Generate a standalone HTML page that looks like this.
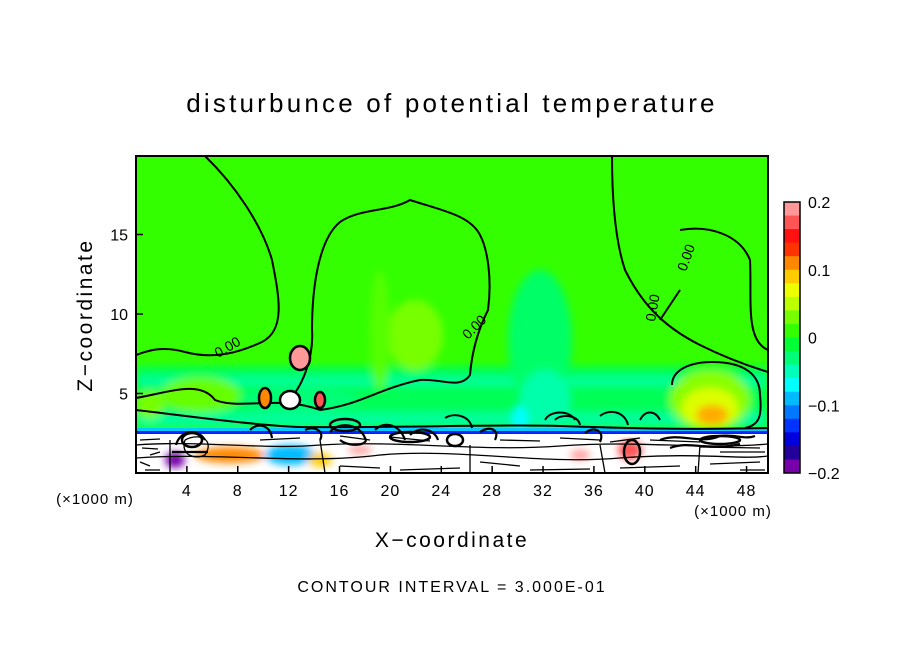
<!DOCTYPE html>
<html><head><meta charset="utf-8"><style>
body{margin:0;background:#fff;}
svg{display:block;font-family:"Liberation Sans",sans-serif;}
</style></head><body>
<svg id="chart" width="904" height="654" viewBox="0 0 904 654">
<text x="452" y="112" text-anchor="middle" font-size="26" letter-spacing="3.2">disturbunce of potential temperature</text>
<defs><clipPath id="pc"><rect x="136" y="156" width="632" height="317"/></clipPath>
<filter id="bl"><feGaussianBlur stdDeviation="4"/></filter></defs>
<g clip-path="url(#pc)">
<rect x="136" y="156" width="632" height="317" fill="#33ff00"/>
<g filter="url(#bl)">
<rect x="136" y="366" width="632" height="62" fill="#00ff55"/>
<rect x="136" y="376" width="632" height="10" fill="#00ff99"/>
<rect x="136" y="412" width="632" height="16" fill="#00ff99"/>
<ellipse cx="540" cy="340" rx="32" ry="70" fill="#00ff66"/>
<ellipse cx="545" cy="400" rx="25" ry="30" fill="#00ffaa"/>
<ellipse cx="415" cy="335" rx="28" ry="35" fill="#77ff00"/>
<ellipse cx="200" cy="395" rx="40" ry="18" fill="#66ff00"/>
<ellipse cx="150" cy="405" rx="14" ry="14" fill="#77ff00"/>
<ellipse cx="300" cy="400" rx="60" ry="12" fill="#00ff77"/>
<ellipse cx="710" cy="400" rx="40" ry="30" fill="#88ff00"/>
<ellipse cx="710" cy="408" rx="28" ry="20" fill="#ddff00"/>
<ellipse cx="712" cy="415" rx="16" ry="10" fill="#ffaa00"/>
<ellipse cx="380" cy="330" rx="10" ry="60" fill="#55ff00"/>
<ellipse cx="520" cy="420" rx="8" ry="14" fill="#00ffff"/>
</g>
<rect x="136" y="428" width="632" height="3" fill="#00ccff"/>
<rect x="136" y="431" width="632" height="3" fill="#0022ff"/>
<rect x="136" y="434" width="632" height="39" fill="#fff"/>
<g filter="url(#bl)">
<ellipse cx="230" cy="455" rx="35" ry="8" fill="#ff8800"/>
<ellipse cx="290" cy="455" rx="25" ry="10" fill="#00bbff"/>
<ellipse cx="175" cy="460" rx="10" ry="8" fill="#7700aa"/>
<ellipse cx="320" cy="460" rx="12" ry="7" fill="#ffcc00"/>
<ellipse cx="630" cy="450" rx="12" ry="10" fill="#ff5555"/>
<ellipse cx="580" cy="455" rx="10" ry="5" fill="#ff9999"/>
<ellipse cx="360" cy="450" rx="12" ry="4" fill="#ff9999"/>
</g>
<g fill="none" stroke="#000" stroke-width="2">
<path d="M205,156 C235,185 262,225 272,260 C280,300 285,330 262,342 C240,352 215,360 185,352 C160,345 145,352 136,355"/>
<path d="M136,398 C170,392 200,380 215,400 C240,410 280,395 320,410 C360,405 380,388 420,380 C440,378 460,390 470,375 C472,350 478,330 488,310 C492,280 488,250 480,235 C470,215 440,210 410,200 C390,212 360,208 340,222 C318,240 312,290 312,330 C314,360 300,390 290,398"/>
<path d="M136,410 C180,415 250,425 300,427 C400,428 500,424 560,426 C620,428 680,430 768,428"/>
<path d="M612,156 C612,200 615,240 625,270 C640,300 660,325 700,345 C730,360 755,368 768,372"/>
<path d="M680,230 C710,225 740,235 750,260 C752,300 745,340 768,350"/>
<path d="M672,385 C672,370 690,362 712,362 C745,362 760,375 760,395 C762,415 760,425 745,428"/>
<path d="M545,420 C550,410 570,410 575,420"/><path d="M640,420 C645,410 655,410 660,420"/>
<path d="M555,420 C560,414 578,414 580,425"/>
<path d="M445,418 C455,412 470,416 472,428"/>
<path d="M600,416 C610,408 625,412 628,425"/>
<path d="M660,320 L680,290"/>
</g>
<g fill="none" stroke="#000" stroke-width="1.3">
<path d="M136,445 C200,440 260,450 320,445 C400,440 480,452 560,446 C640,440 700,450 768,444"/>
<path d="M136,458 C220,452 300,465 380,455 C460,448 540,465 620,458 C700,452 740,460 768,456"/>
<path d="M170,440 L170,473 M320,440 L325,473 M470,445 L470,473 M700,445 L698,473 M600,445 L605,473"/>
<path d="M185,440 C200,432 215,440 205,455 C195,460 180,455 185,440"/>
<path d="M260,440 L300,438 M340,436 L370,440 M390,437 L430,441 M650,440 L700,442 M700,447 L760,448"/>
<path d="M140,440 L160,439 M142,448 L158,449 M140,462 L150,466 M145,470 L160,470 M340,466 L380,468 M400,470 L460,468 M480,462 L520,466 M530,470 L590,469 M620,468 L680,466 M710,464 L760,462 M740,470 L765,470 M500,440 L540,441 M560,438 L600,440 M610,442 L640,438 M720,452 L765,452 M150,455 L160,452"/>
</g>
<g fill="none" stroke="#000" stroke-width="2.2">
<path d="M330,432 C340,420 360,425 365,438 C370,445 350,448 340,440 M375,430 C385,420 400,425 405,440 M410,435 C420,425 435,430 438,440 M305,430 C315,425 325,432 320,440 M250,430 C258,422 270,425 272,438 M660,440 C680,432 700,445 720,436 C735,434 745,440 755,436 M670,448 C690,440 710,452 740,444 M176,445 C180,430 198,428 205,440 M172,452 L208,452 M480,432 C490,425 500,430 495,440 M585,433 C595,425 605,432 600,442"/>
</g>
<g stroke="#000" stroke-width="2.5" fill="none">
<ellipse cx="192" cy="440" rx="10" ry="7"/><ellipse cx="455" cy="440" rx="8" ry="6"/>
<ellipse cx="300" cy="358" rx="10" ry="12" fill="#ff9999"/>
<ellipse cx="290" cy="400" rx="10" ry="9" fill="#ffffff"/>
<ellipse cx="265" cy="398" rx="6" ry="10" fill="#ff8800"/>
<ellipse cx="320" cy="400" rx="5" ry="8" fill="#ff5555"/>
<ellipse cx="345" cy="425" rx="15" ry="6"/><ellipse cx="410" cy="437" rx="20" ry="5"/>
<ellipse cx="720" cy="440" rx="20" ry="4"/>
<ellipse cx="632" cy="452" rx="8" ry="12"/>
</g>
<g font-size="14">
<text x="218" y="358" transform="rotate(-30 218 358)">0.00</text>
<text x="468" y="340" transform="rotate(-45 468 340)">0.00</text>
<text x="655" y="322" transform="rotate(-80 655 322)">0.00</text>
<text x="686" y="272" transform="rotate(-70 686 272)">0.00</text>
</g>
</g>
<rect x="136" y="156" width="632" height="317" fill="none" stroke="#000" stroke-width="2"/>
<g id="xt" font-size="16" text-anchor="middle"></g>
<g id="yt" font-size="16" text-anchor="end"></g>
<g id="cb"></g>
<text x="95" y="504" font-size="15" letter-spacing="1" text-anchor="middle">(×1000 m)</text>
<text x="733" y="516" font-size="15" letter-spacing="1" text-anchor="middle">(×1000 m)</text>
<text x="452" y="547" font-size="21" letter-spacing="2.5" text-anchor="middle">X−coordinate</text>
<text x="92" y="315" font-size="21" letter-spacing="2.5" text-anchor="middle" transform="rotate(-90 92 315)">Z−coordinate</text>
<text x="452" y="592" font-size="16" letter-spacing="2" text-anchor="middle">CONTOUR INTERVAL = 3.000E-01</text>
</svg>
<script>
const xTicks=[4,8,12,16,20,24,28,32,36,40,44,48];
const yTicks=[5,10,15];
const cbColors=["#ff9999","#ff5555","#ff1111","#ff3300","#ff8800","#ffcc00","#eeff00","#bbff00","#77ff00","#33ff00","#00ff33","#00ff77","#00ffbb","#00ffff","#00bbff","#0077ff","#0033ff","#0000dd","#220099","#7700aa"];
const cbLabels=["0.2","0.1","0","−0.1","−0.2"];
const NS="http://www.w3.org/2000/svg";
const X=v=>136+v*12.72, Y=v=>473-v*15.9;
const xt=document.getElementById('xt'),yt=document.getElementById('yt'),cb=document.getElementById('cb');
xTicks.forEach(v=>{
 const l=document.createElementNS(NS,'line');
 
 
 l.setAttribute('x1',X(v));l.setAttribute('x2',X(v));l.setAttribute('y1',473);l.setAttribute('y2',466);l.setAttribute('stroke','#000');l.setAttribute('stroke-width','1.5');xt.appendChild(l);
 const t=document.createElementNS(NS,'text');
 
 
 t.setAttribute('x',X(v));t.setAttribute('y',496);t.setAttribute('letter-spacing','1');t.textContent=v;xt.appendChild(t);
});
yTicks.forEach(v=>{
 const l=document.createElementNS(NS,'line');
 
 
 l.setAttribute('x1',136);l.setAttribute('x2',143);l.setAttribute('y1',Y(v));l.setAttribute('y2',Y(v));l.setAttribute('stroke','#000');l.setAttribute('stroke-width','1.5');yt.appendChild(l);
 const t=document.createElementNS(NS,'text');
 
 
 t.setAttribute('x',128);t.setAttribute('y',Y(v)+6);t.textContent=v;yt.appendChild(t);
});
const cTop=202,cH=271,bh=cH/cbColors.length;
cbColors.forEach((c,i)=>{
 const r=document.createElementNS(NS,'rect');
 
 
 r.setAttribute('x',784);r.setAttribute('y',cTop+i*bh);r.setAttribute('width',16);r.setAttribute('height',bh+0.5);r.setAttribute('fill',c);cb.appendChild(r);
});
const fr=document.createElementNS(NS,'rect');


fr.setAttribute('x',784);fr.setAttribute('y',cTop);fr.setAttribute('width',16);fr.setAttribute('height',cH);fr.setAttribute('fill','none');fr.setAttribute('stroke','#000');fr.setAttribute('stroke-width','1.5');cb.appendChild(fr);
cbLabels.forEach((s,i)=>{
 const t=document.createElementNS(NS,'text');
 
 
 t.setAttribute('x',808);t.setAttribute('y',cTop+i*cH/(cbLabels.length-1)+6);t.setAttribute('font-size','16');t.textContent=s;cb.appendChild(t);
});
</script>
</body></html>
